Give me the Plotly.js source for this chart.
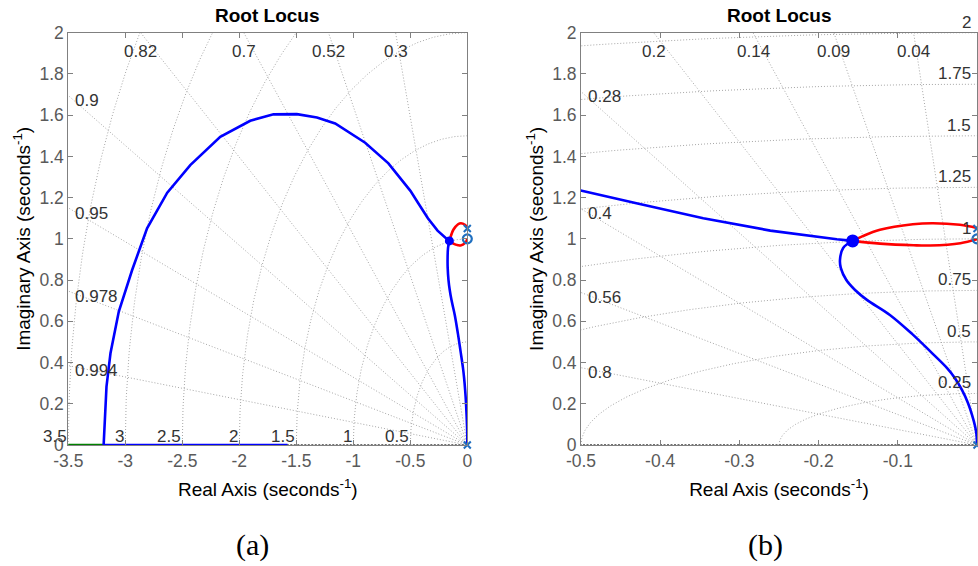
<!DOCTYPE html>
<html><head><meta charset="utf-8">
<script src="https://cdn.plot.ly/plotly-3.0.1.min.js"></script>
<style>html,body{margin:0;padding:0;background:#fff}#chart{width:978px;height:566px}</style>
</head><body><div id="chart"></div>
<script>
// ---- sgrid values (labels) ----
const zetaA = [0.3, 0.52, 0.7, 0.82, 0.9, 0.95, 0.978, 0.994];
const wnA = [0.5, 1, 1.5, 2, 2.5, 3, 3.5];
const zetaB = [0.04, 0.09, 0.14, 0.2, 0.28, 0.4, 0.56, 0.8];
const wnB = [0.25, 0.5, 0.75, 1, 1.25, 1.5, 1.75, 2];

// ---- tick labels ----
const xTicksA = [-3.5, -3, -2.5, -2, -1.5, -1, -0.5, 0];
const xTicksB = [-0.5, -0.4, -0.3, -0.2, -0.1, 0];
const yTicks = [0, 0.2, 0.4, 0.6, 0.8, 1, 1.2, 1.4, 1.6, 1.8, 2];

// ---- root locus branches ----
// blue: pole at origin -> complex breakaway point
const branchPoleX = [0, -0.0006, -0.0025, -0.0063, -0.0114, -0.019, -0.028, -0.038, -0.059, -0.082, -0.110, -0.139, -0.154, -0.165, -0.172, -0.173, -0.169, -0.157];
const branchPoleY = [0, 0.049, 0.092, 0.146, 0.204, 0.267, 0.325, 0.374, 0.454, 0.539, 0.631, 0.704, 0.752, 0.80, 0.859, 0.898, 0.956, 0.990];
// blue: breakaway point -> big arc -> real axis break-in
const branchArcX = [-0.157, -0.177, -0.261, -0.3456, -0.43, -0.499, -0.692, -0.896, -1.159, -1.319, -1.495, -1.700, -1.904, -2.167, -2.43, -2.632, -2.809, -2.94, -3.057, -3.13, -3.165, -3.183, -3.19];
const branchArcY = [0.990, 0.998, 1.040, 1.100, 1.173, 1.233, 1.366, 1.466, 1.560, 1.589, 1.605, 1.604, 1.573, 1.495, 1.358, 1.224, 1.051, 0.849, 0.647, 0.445, 0.283, 0.121, 0];
// blue: break-in -> real zero
const branchRealX = [-3.19, -1.577];
const branchRealY = [0, 0];
// green: break-in -> -infinity
const branchGreenX = [-3.19, -5];
const branchGreenY = [0, 0];
// red: pole (0,1.05) -> upper arc -> breakaway
const loopUpX = [0, -0.0215, -0.0555, -0.081, -0.1225, -0.145, -0.157];
const loopUpY = [1.053, 1.068, 1.076, 1.071, 1.044, 1.012, 0.990];
// red: breakaway -> lower arc -> zero (0,1)
const loopLowX = [-0.157, -0.1225, -0.080, -0.059, -0.021, 0];
const loopLowY = [0.990, 0.977, 0.969, 0.968, 0.979, 0.9985];
// poles / zeros / breakaway
const polesX = [0, 0];
const polesY = [0, 1.05];
const zerosImX = [0];
const zerosImY = [1.0];
const zerosReX = [-1.577];
const zerosReY = [0];
const breakX = [-0.157];
const breakY = [0.990];

const FONT = 'Liberation Sans, Arial, Helvetica, sans-serif';
const GRIDC = '#a6a6a6';
const LBLC = '#333333';
const GDASH = '1px,2px';

function gridTraces(xa, ya, zetas, wns, R) {
  const tr = [];
  zetas.forEach(z => {
    tr.push({x: [0, -z * R], y: [0, Math.sqrt(1 - z * z) * R], xaxis: xa, yaxis: ya, mode: 'lines',
      line: {color: GRIDC, width: 1, dash: GDASH}, hoverinfo: 'skip', showlegend: false});
  });
  wns.forEach(w => {
    const xs = [], ys = [];
    for (let i = 0; i <= 160; i++) { const t = i / 160 * Math.PI / 2; xs.push(-w * Math.cos(t)); ys.push(w * Math.sin(t)); }
    tr.push({x: xs, y: ys, xaxis: xa, yaxis: ya, mode: 'lines',
      line: {color: GRIDC, width: 1, dash: GDASH}, hoverinfo: 'skip', showlegend: false});
  });
  tr.push({x: [0, -R], y: [0, 0], xaxis: xa, yaxis: ya, mode: 'lines',
    line: {color: '#707070', width: 1.8, dash: '2px,1.5px'}, hoverinfo: 'skip', showlegend: false});
  return tr;
}

function locusTraces(xa, ya, dotSize) {
  const L = (x, y, c, shape) => ({x, y, xaxis: xa, yaxis: ya, mode: 'lines',
    line: {color: c, width: 2.6, shape: shape || 'linear', smoothing: 1}, hoverinfo: 'skip', showlegend: false});
  return [
    L(branchGreenX, branchGreenY, '#008000'),
    L(branchRealX, branchRealY, '#0000ff'),
    L(branchArcX, branchArcY, '#0000ff'),
    L(branchPoleX, branchPoleY, '#0000ff', 'spline'),
    L(loopUpX, loopUpY, '#ff0000', 'spline'),
    L(loopLowX, loopLowY, '#ff0000', 'spline'),
    {x: breakX, y: breakY, xaxis: xa, yaxis: ya, mode: 'markers', marker: {color: '#0000ff', size: dotSize, symbol: 'circle'}, hoverinfo: 'skip', showlegend: false},
    {x: zerosReX, y: zerosReY, xaxis: xa, yaxis: ya, mode: 'markers', cliponaxis: false,
      marker: {color: 'rgba(0,0,0,0)', size: 9, symbol: 'circle-open', line: {color: '#0000ff', width: 2.2}}, hoverinfo: 'skip', showlegend: false},
    {x: zerosImX, y: zerosImY, xaxis: xa, yaxis: ya, mode: 'markers', cliponaxis: false,
      marker: {size: 9, symbol: 'circle-open', color: '#1f6fc0', line: {color: '#1f6fc0', width: 2.2}}, hoverinfo: 'skip', showlegend: false},
    {x: polesX, y: polesY, xaxis: xa, yaxis: ya, mode: 'markers', cliponaxis: false,
      marker: {size: 7, symbol: 'x-thin-open', color: '#1f6fc0', line: {color: '#1f6fc0', width: 2}}, hoverinfo: 'skip', showlegend: false}
  ];
}

function gridLabels(xref, yref, zetas, wns, xmin, ymax, wnMode) {
  const an = [];
  const f = {family: FONT, size: 17, color: LBLC};
  zetas.forEach(z => {
    const s = Math.sqrt(1 - z * z) / z;
    const yLeft = -xmin * s;
    if (yLeft > ymax) {
      an.push({xref, yref, x: -ymax / s, y: ymax - 0.09, text: String(z), showarrow: false, xanchor: 'center', yanchor: 'middle', font: f});
    } else {
      an.push({xref, yref, x: xmin, y: yLeft - 0.025, text: String(z), showarrow: false, xanchor: 'left', yanchor: 'middle', xshift: 5, font: f});
    }
  });
  wns.forEach(w => {
    if (wnMode === 'real') {
      an.push({xref, yref, x: -w, y: 0, yshift: 9, text: String(w), showarrow: false, xanchor: 'right', yanchor: 'middle', xshift: 1, font: f});
    } else {
      an.push({xref, yref, x: 0, y: w, yshift: 10.5, text: String(w), showarrow: false, xanchor: 'right', yanchor: 'middle', xshift: -4, font: f});
    }
  });
  return an;
}

const traces = [].concat(
  gridTraces('x', 'y', zetaA, wnA, 8),
  gridTraces('x2', 'y2', zetaB, wnB, 8),
  locusTraces('x', 'y', 9),
  locusTraces('x2', 'y2', 13)
);

const fmt = v => String(v);
function xAxis(dom, rng, ticks, anchor) {
  return {domain: dom, range: rng, anchor, tickmode: 'array', tickvals: ticks, ticktext: ticks.map(fmt),
    ticks: 'inside', ticklen: 5, tickcolor: '#808080', tickwidth: 1, showline: true, linecolor: '#808080', linewidth: 1,
    mirror: 'allticks', zeroline: false, showgrid: false, automargin: false,
    tickfont: {family: FONT, size: 17.5, color: '#5a5a5a'},
    title: {text: 'Real Axis (seconds<sup>-1</sup>)', font: {family: FONT, size: 19, color: '#000'}, standoff: 12}};
}
function yAxis(dom, anchor) {
  return {domain: dom, range: [0, 2], anchor, tickmode: 'array', tickvals: yTicks, ticktext: yTicks.map(fmt),
    ticks: 'inside', ticklen: 5, tickcolor: '#808080', tickwidth: 1, showline: true, linecolor: '#808080', linewidth: 1,
    mirror: 'allticks', zeroline: false, showgrid: false, automargin: false,
    tickfont: {family: FONT, size: 17.5, color: '#5a5a5a'},
    title: {text: 'Imaginary Axis (seconds<sup>-1</sup>)', font: {family: FONT, size: 19, color: '#000'}, standoff: 3}};
}

const W = 978, H = 566;
const yDom = [1 - 445 / H, 1 - 32.7 / H];
const annotations = [].concat(
  gridLabels('x', 'y', zetaA, wnA, -3.5, 2, 'real'),
  gridLabels('x2', 'y2', zetaB, wnB, -0.5, 2, 'imag'),
  [
    {xref: 'paper', yref: 'paper', x: 267.5 / W, y: 1 - 15.7 / H, text: '<b>Root Locus</b>', showarrow: false, xanchor: 'center', yanchor: 'middle',
      font: {family: FONT, size: 19, color: '#000'}},
    {xref: 'paper', yref: 'paper', x: 779 / W, y: 1 - 15.7 / H, text: '<b>Root Locus</b>', showarrow: false, xanchor: 'center', yanchor: 'middle',
      font: {family: FONT, size: 19, color: '#000'}},
    {xref: 'paper', yref: 'paper', x: 252 / W, y: 1 - 545 / H, text: '(a)', showarrow: false, xanchor: 'center', yanchor: 'middle',
      font: {family: 'Liberation Serif, Times New Roman, serif', size: 30, color: '#000'}},
    {xref: 'paper', yref: 'paper', x: 765 / W, y: 1 - 545 / H, text: '(b)', showarrow: false, xanchor: 'center', yanchor: 'middle',
      font: {family: 'Liberation Serif, Times New Roman, serif', size: 30, color: '#000'}}
  ]
);

const layout = {
  width: W, height: H, margin: {l: 0, r: 0, t: 0, b: 0}, paper_bgcolor: '#fff', plot_bgcolor: '#fff',
  showlegend: false, font: {family: FONT},
  xaxis: xAxis([68.3 / W, 467.3 / W], [-3.5, 0], xTicksA, 'y'),
  yaxis: yAxis(yDom, 'x'),
  xaxis2: xAxis([581 / W, 977 / W], [-0.5, 0], xTicksB, 'y2'),
  yaxis2: yAxis(yDom, 'x2'),
  annotations
};

Plotly.newPlot('chart', traces, layout, {staticPlot: true, displayModeBar: false});
</script></body></html>
